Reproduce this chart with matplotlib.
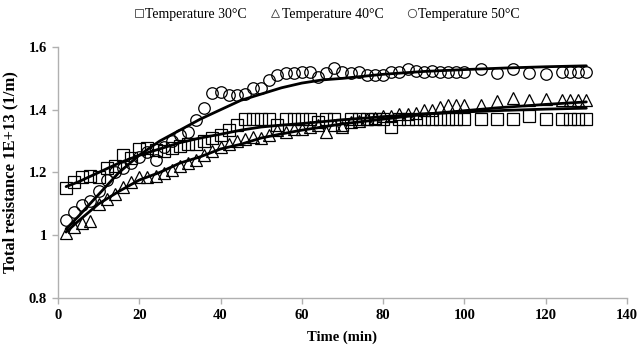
import numpy as np
import matplotlib
matplotlib.use('Agg')
import matplotlib.pyplot as plt
from matplotlib.lines import Line2D

# measurement times (min)
time = [2, 4, 6, 8, 10, 12, 14, 16, 18, 20, 22, 24, 26, 28, 30, 32, 34, 36, 38, 40,
        42, 44, 46, 48, 50, 52, 54, 56, 58, 60, 62, 64, 66, 68, 70, 72, 74, 76, 78, 80,
        82, 84, 86, 88, 90, 92, 94, 96, 98, 100, 104, 108, 112, 116, 120, 124, 126, 128, 130]

r30 = [1.15, 1.17, 1.185, 1.19, 1.185, 1.215, 1.22, 1.255, 1.245, 1.275, 1.278, 1.272, 1.27, 1.278, 1.285,
       1.29, 1.29, 1.30, 1.31, 1.32, 1.335, 1.35, 1.37, 1.37, 1.37, 1.37, 1.35, 1.37, 1.37, 1.37,
       1.37, 1.36, 1.37, 1.37, 1.35, 1.37, 1.37, 1.37, 1.37, 1.37, 1.345, 1.37, 1.37, 1.37, 1.37,
       1.37, 1.37, 1.37, 1.37, 1.37, 1.37, 1.37, 1.37, 1.38, 1.37, 1.37, 1.37, 1.37, 1.37]

r40 = [1.007, 1.027, 1.04, 1.045, 1.10, 1.115, 1.13, 1.155, 1.17, 1.185, 1.185, 1.19, 1.197, 1.208, 1.22,
       1.23, 1.24, 1.255, 1.27, 1.28, 1.29, 1.30, 1.307, 1.314, 1.31, 1.32, 1.335, 1.33, 1.34, 1.34,
       1.345, 1.35, 1.33, 1.35, 1.345, 1.36, 1.365, 1.37, 1.375, 1.38, 1.38, 1.385, 1.385, 1.39, 1.40,
       1.40, 1.41, 1.415, 1.415, 1.415, 1.415, 1.428, 1.436, 1.43, 1.433, 1.43, 1.43, 1.43, 1.43]

r50 = [1.05, 1.075, 1.095, 1.11, 1.14, 1.175, 1.20, 1.215, 1.23, 1.25, 1.265, 1.24, 1.28, 1.30, 1.32,
       1.33, 1.367, 1.405, 1.452, 1.455, 1.447, 1.447, 1.45, 1.47, 1.47, 1.495, 1.51, 1.516, 1.518, 1.52,
       1.52, 1.505, 1.516, 1.532, 1.52, 1.516, 1.52, 1.51, 1.51, 1.51, 1.52, 1.52, 1.53, 1.525, 1.52,
       1.525, 1.52, 1.52, 1.52, 1.52, 1.529, 1.516, 1.529, 1.516, 1.513, 1.52, 1.52, 1.52, 1.52]

# fitted model curves
t_fit = [2, 5, 10, 15, 20, 25, 30, 35, 40, 45, 50, 55, 60, 65, 70, 80, 90, 100, 110, 120, 130]
fit30 = [1.155, 1.17, 1.20, 1.23, 1.255, 1.275, 1.295, 1.31, 1.322, 1.335, 1.345, 1.351, 1.356, 1.362,
         1.368, 1.378, 1.387, 1.393, 1.398, 1.402, 1.405]
fit40 = [1.01, 1.045, 1.10, 1.14, 1.176, 1.20, 1.23, 1.25, 1.275, 1.29, 1.31, 1.323, 1.335, 1.345,
         1.355, 1.37, 1.385, 1.397, 1.408, 1.417, 1.425]
fit50 = [1.02, 1.06, 1.13, 1.20, 1.255, 1.30, 1.335, 1.37, 1.40, 1.43, 1.45, 1.47, 1.485, 1.495,
         1.50, 1.513, 1.522, 1.528, 1.533, 1.537, 1.54]

labels = ['Temperature 30°C', 'Temperature 40°C', 'Temperature 50°C']
markers = ['s', '^', 'o']

plt.rcParams['font.family'] = 'Liberation Serif'
FontSize = 10.5
grey = '#b0b0b0'

fig = plt.figure(figsize=(6.42, 3.52), dpi=100)
ax = fig.add_axes([0.0903, 0.1534, 0.8863, 0.7131])

for y, m in zip([r30, r40, r50], markers):
    ax.plot(time, y, linestyle='none', marker=m, markersize=8.3, mfc='none',
            mec='black', mew=0.9, zorder=2)
for f in [fit30, fit40, fit50]:
    ax.plot(t_fit, f, color='black', lw=2.0, zorder=3, solid_capstyle='round')

ax.set_xlim(0, 140)
ax.set_ylim(0.8, 1.6)
ax.set_xticks(np.arange(0, 141, 20))
ax.set_yticks([0.8, 1.0, 1.2, 1.4, 1.6])
ax.set_yticklabels(['0.8', '1', '1.2', '1.4', '1.6'])
for s in ['top', 'right']:
    ax.spines[s].set_visible(False)
for s in ['left', 'bottom']:
    ax.spines[s].set_color(grey)
    ax.spines[s].set_linewidth(1.0)
ax.tick_params(axis='both', direction='out', length=4, color=grey, width=1.0,
               labelsize=FontSize, pad=4)
for lab in ax.get_xticklabels() + ax.get_yticklabels():
    lab.set_fontweight('bold')

ax.set_xlabel('Time (min)', fontsize=FontSize, fontweight='bold', labelpad=6)
ax.set_ylabel('Total resistance 1E+13 (1/m)', fontsize=12, fontweight='bold', labelpad=7)

handles = [Line2D([], [], linestyle='none', marker=m, markersize=6, mfc='none',
                  mec='#444444', mew=0.6) for m in markers]
fig.legend(handles, labels, loc='center', bbox_to_anchor=(0.508, 0.958), ncol=3,
           frameon=False, fontsize=10, handletextpad=0.0, columnspacing=1.6,
           handlelength=0.9, borderpad=0)

fig.savefig('out.png', dpi=100)
